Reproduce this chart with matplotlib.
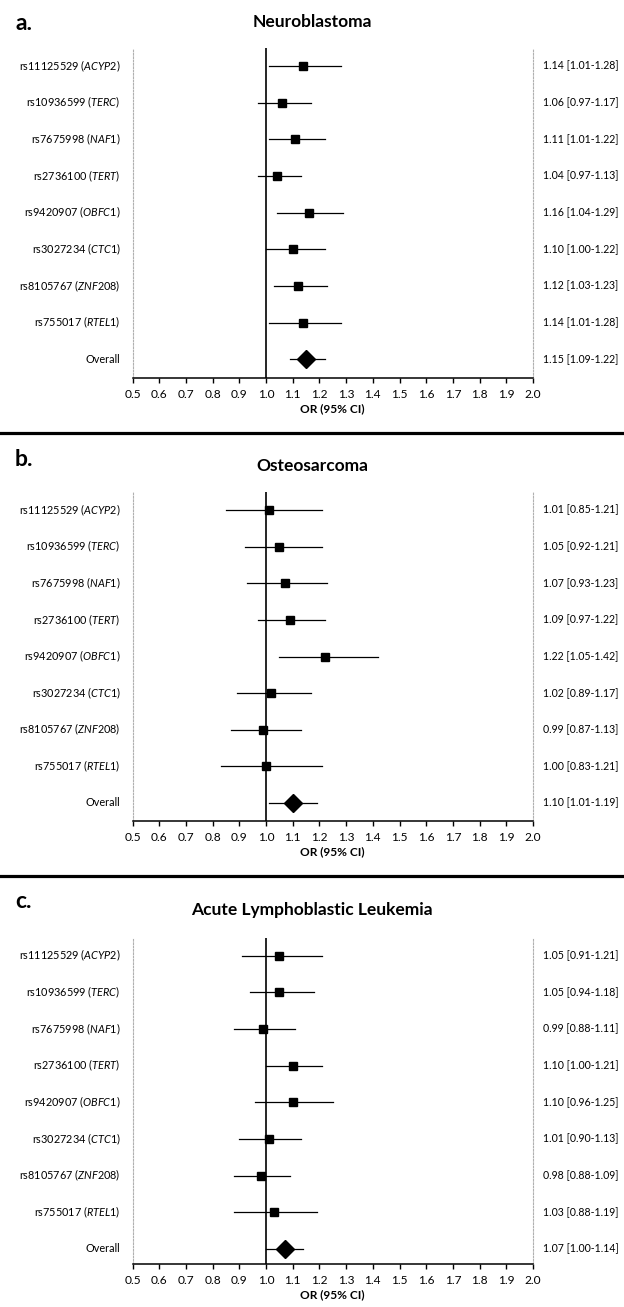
import matplotlib
matplotlib.use("Agg")
import matplotlib.pyplot as plt
from matplotlib.lines import Line2D

plt.rcParams['font.family'] = ['Lato', 'DejaVu Sans']
plt.rcParams['mathtext.fontset'] = 'custom'
plt.rcParams['mathtext.rm'] = 'Lato'
plt.rcParams['mathtext.it'] = 'Lato:italic'

snps = ["rs11125529", "rs10936599", "rs7675998", "rs2736100",
        "rs9420907", "rs3027234", "rs8105767", "rs755017"]
genes = ["ACYP2", "TERC", "NAF1", "TERT", "OBFC1", "CTC1", "ZNF208", "RTEL1"]

titles = ["Neuroblastoma", "Osteosarcoma", "Acute Lymphoblastic Leukemia"]
panel_letters = ["a.", "b.", "c."]

nb_or = [1.14, 1.06, 1.11, 1.04, 1.16, 1.10, 1.12, 1.14, 1.15]
nb_lo = [1.01, 0.97, 1.01, 0.97, 1.04, 1.00, 1.03, 1.01, 1.09]
nb_hi = [1.28, 1.17, 1.22, 1.13, 1.29, 1.22, 1.23, 1.28, 1.22]

os_or = [1.01, 1.05, 1.07, 1.09, 1.22, 1.02, 0.99, 1.00, 1.10]
os_lo = [0.85, 0.92, 0.93, 0.97, 1.05, 0.89, 0.87, 0.83, 1.01]
os_hi = [1.21, 1.21, 1.23, 1.22, 1.42, 1.17, 1.13, 1.21, 1.19]

all_or = [1.05, 1.05, 0.99, 1.10, 1.10, 1.01, 0.98, 1.03, 1.07]
all_lo = [0.91, 0.94, 0.88, 1.00, 0.96, 0.90, 0.88, 0.88, 1.00]
all_hi = [1.21, 1.18, 1.11, 1.21, 1.25, 1.13, 1.09, 1.19, 1.14]

xticks = [0.5, 0.6, 0.7, 0.8, 0.9, 1.0, 1.1, 1.2, 1.3, 1.4, 1.5,
          1.6, 1.7, 1.8, 1.9, 2.0]

datasets = [(nb_or, nb_lo, nb_hi), (os_or, os_lo, os_hi), (all_or, all_lo, all_hi)]

W, H = 624, 1307
fig = plt.figure(figsize=(W / 100, H / 100), dpi=100)

# layout in pixels (from top)
ax_left, ax_right = 132.5, 533
row1_px = [66, 510, 955.7]
overall_px = [359.3, 803, 1249]
axis_px = [378, 821, 1264]
top_px = [48, 492, 938]
letter_px = [24, 459, 901]
title_px = [22, 466, 910]
sep_px = [433, 876]

labels = [f"{s} ($\\mathit{{{g}}}$)" for s, g in zip(snps, genes)] + ["Overall"]
n = len(labels)

for i in range(3):
    orv, lo, hi = datasets[i]
    ax = fig.add_axes([ax_left / W, 1 - axis_px[i] / H,
                       (ax_right - ax_left) / W, (axis_px[i] - top_px[i]) / H])
    s = (overall_px[i] - row1_px[i]) / 8
    ylo = 1 - (axis_px[i] - overall_px[i]) / s
    yhi = n + (row1_px[i] - top_px[i]) / s
    ax.set_xlim(0.5, 2.0)
    ax.set_ylim(ylo, yhi)
    ys = list(range(n, 0, -1))
    ax.axvline(1.0, color='black', lw=1.2, zorder=1)
    for k in range(n):
        ax.plot([lo[k], hi[k]], [ys[k], ys[k]], color='black', lw=0.9, zorder=2)
        if k < n - 1:
            ax.plot(orv[k], ys[k], marker='s', ms=5.4, color='black', zorder=3)
        else:
            ax.plot(orv[k], ys[k], marker='D', ms=8.8, color='black', zorder=3)
        ax.text(-0.03, ys[k], labels[k], transform=ax.get_yaxis_transform(),
                ha='right', va='center', fontsize=7.8)
        ax.text(1.0 + 10 / (ax_right - ax_left), ys[k],
                f"{orv[k]:.2f} [{lo[k]:.2f}-{hi[k]:.2f}]",
                transform=ax.get_yaxis_transform(), ha='left', va='center',
                fontsize=7.6)
    ax.set_yticks([])
    ax.spines['top'].set_visible(False)
    for side in ('left', 'right'):
        ax.spines[side].set_color('#b0b0b0')
        ax.spines[side].set_linestyle((0, (1.5, 1.5)))
        ax.spines[side].set_linewidth(0.8)
    ax.spines['bottom'].set_linewidth(1.1)
    ax.set_xticks(xticks)
    ax.set_xticklabels([f"{t:.1f}" for t in xticks], fontsize=8.6)
    ax.tick_params(axis='x', direction='out', length=3.5, width=1.0, pad=4.5)
    ax.set_xlabel("OR (95% CI)", fontsize=8.6, fontweight='bold', labelpad=2.5)

    fig.text(15 / W, 1 - letter_px[i] / H, panel_letters[i], fontsize=16.5,
             fontweight='bold', ha='left', va='center')
    fig.text(0.5, 1 - title_px[i] / H, titles[i], fontsize=12.5,
             fontweight='bold', ha='center', va='center')

for yp in sep_px:
    fig.add_artist(Line2D([0, 1], [1 - yp / H, 1 - yp / H],
                          transform=fig.transFigure, color='black', lw=2.3))

fig.savefig("out.png", dpi=100)
